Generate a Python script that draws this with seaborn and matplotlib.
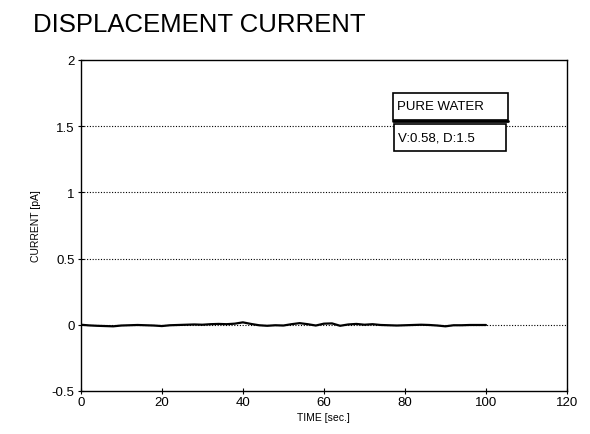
import matplotlib
matplotlib.use("Agg")
import matplotlib.pyplot as plt
from matplotlib.patches import Rectangle
import seaborn as sns
import pandas as pd

sns.set_theme(style="white")
plt.rcParams['font.family'] = ['Liberation Sans', 'DejaVu Sans']

title = "DISPLACEMENT CURRENT"
x_label = "TIME [sec.]"
y_label = "CURRENT [pA]"
legend_lines = ["PURE WATER", "V:0.58, D:1.5"]
x_ticks = [0, 20, 40, 60, 80, 100, 120]
y_ticks = [-0.5, 0, 0.5, 1, 1.5, 2]
grid_levels = [0, 0.5, 1, 1.5]

time_s = [0, 2, 4, 6, 8, 10, 12, 14, 16, 18, 20, 22, 24, 26, 28, 30, 32, 34, 36, 38,
          40, 42, 44, 46, 48, 50, 52, 54, 56, 58, 60, 62, 64, 66, 68, 70, 72, 74, 76, 78,
          80, 82, 84, 86, 88, 90, 92, 94, 96, 98, 100]
current_pa = [0.0, -0.005, -0.008, -0.01, -0.012, -0.006, -0.004, -0.002, -0.004, -0.006,
              -0.01, -0.004, -0.002, 0.0, 0.002, 0.0, 0.004, 0.006, 0.004, 0.008,
              0.018, 0.006, -0.004, -0.008, -0.004, -0.006, 0.004, 0.012, 0.004, -0.006,
              0.008, 0.01, -0.008, 0.002, 0.006, 0.0, 0.004, -0.002, -0.004, -0.006,
              -0.004, -0.002, 0.0, -0.002, -0.006, -0.012, -0.004, -0.004, -0.002, -0.002, -0.002]

df = pd.DataFrame({"t": time_s, "i": current_pa})

fig = plt.figure(figsize=(5.9, 4.35), dpi=100)
ax = fig.add_axes([0.137, 0.099, 0.824, 0.761])

for g in grid_levels:
    ax.axhline(g, color="black", linestyle=(0, (1, 1.5)), linewidth=0.8, zorder=1)

sns.lineplot(data=df, x="t", y="i", ax=ax, color="black", linewidth=1.6, zorder=3)

ax.set_xlim(0, 120)
ax.set_ylim(-0.5, 2)
ax.set_xticks(x_ticks)
ax.set_yticks(y_ticks)
ax.set_xticklabels([str(v) for v in x_ticks])
ax.set_yticklabels([f"{v:g}" for v in y_ticks])
ax.tick_params(axis="both", direction="inout", length=5, width=0.8, labelsize=9.5,
               color="black", labelcolor="black", pad=2)
ax.tick_params(axis="x", bottom=True, pad=1)
ax.tick_params(axis="y", left=True)
for s in ax.spines.values():
    s.set_color("black")
    s.set_linewidth(1.0)

ax.set_xlabel(x_label, fontsize=7.5, color="black", labelpad=3)
ax.set_ylabel(y_label, fontsize=7.5, color="black", labelpad=8)

# legend-like boxes
ax.add_patch(Rectangle((0.642, 0.819), 0.237, 0.081, transform=ax.transAxes,
                       facecolor="white", edgecolor="black", linewidth=1.2, zorder=5))
ax.add_patch(Rectangle((0.644, 0.725), 0.230, 0.082, transform=ax.transAxes,
                       facecolor="white", edgecolor="black", linewidth=1.2, zorder=5))
ax.plot([0.642, 0.879], [0.815, 0.815], transform=ax.transAxes, color="black",
        linewidth=2.0, zorder=6)
ax.text(0.650, 0.862, legend_lines[0], transform=ax.transAxes, fontsize=9.5,
        va="center", ha="left", zorder=7, color="black")
ax.text(0.652, 0.766, legend_lines[1], transform=ax.transAxes, fontsize=9.5,
        va="center", ha="left", zorder=7, color="black")

fig.text(0.056, 0.943, title, fontsize=18.5, ha="left", va="center", color="black")

fig.savefig("out.png", dpi=100, facecolor="white")
